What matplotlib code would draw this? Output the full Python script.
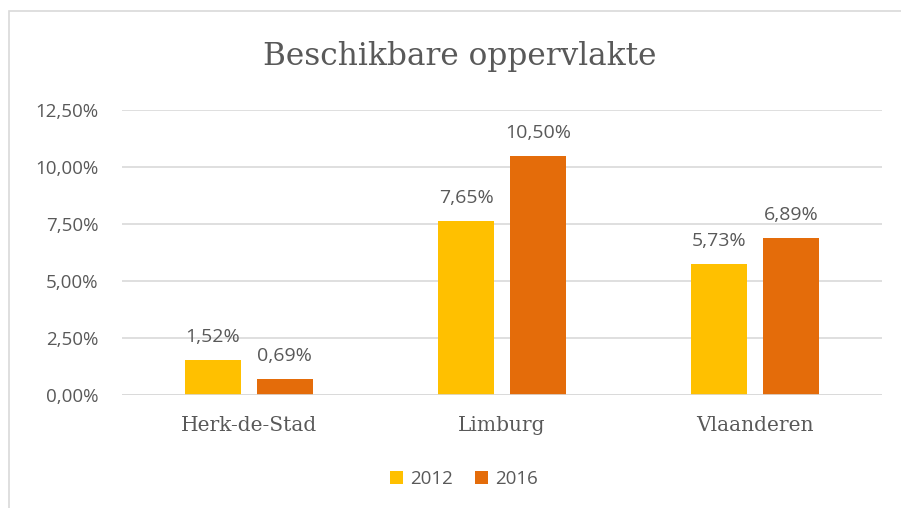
import matplotlib
matplotlib.use("Agg")
import matplotlib.pyplot as plt
from matplotlib.patches import Rectangle
import numpy as np

categories = ["Herk-de-Stad", "Limburg", "Vlaanderen"]
series_names = ["2012", "2016"]
values_2012 = [1.52, 7.65, 5.73]
values_2016 = [0.69, 10.50, 6.89]
yticks = [0, 2.5, 5, 7.5, 10, 12.5]
title = "Beschikbare oppervlakte"

colors = ["#FFC000", "#E46C0A"]
text_col = "#595959"
serif = ["DejaVu Serif"]
sans = ["Open Sans", "DejaVu Sans"]

W, H = 901, 508
fig = plt.figure(figsize=(W / 100, H / 100), dpi=100)
fig.patch.set_facecolor("white")

# chart border
fig.add_artist(Rectangle((9 / W, -0.1), 1.2, (H - 11) / H + 0.1, transform=fig.transFigure,
                         fill=False, edgecolor="#d9d9d9", lw=1.2))

ax = fig.add_axes([122 / W, 1 - 395 / H, (882 - 122) / W, (395 - 110) / H])
x = np.arange(len(categories))
bw = 0.221
off = 0.142
b1 = ax.bar(x - off, values_2012, bw, color=colors[0], label=series_names[0], zorder=3)
b2 = ax.bar(x + off, values_2016, bw, color=colors[1], label=series_names[1], zorder=3)

for bars, vals in ((b1, values_2012), (b2, values_2016)):
    for r, v in zip(bars, vals):
        ax.annotate(("%.2f%%" % v).replace(".", ","), (r.get_x() + r.get_width() / 2, v),
                    xytext=(0, 10), textcoords="offset points", ha="center", va="bottom",
                    fontsize=14, color=text_col, family=sans)

ax.set_xlim(-0.5, 2.5)
ax.set_ylim(0, 12.5)
ax.set_yticks(yticks)
ax.set_yticklabels([("%.2f%%" % t).replace(".", ",") for t in yticks], family=sans,
                   fontsize=13.5, color=text_col)
ax.set_xticks(x)
ax.set_xticklabels(categories, family=serif, fontsize=14.5, color=text_col)
ax.tick_params(axis="both", length=0)
ax.tick_params(axis="y", pad=17)
ax.tick_params(axis="x", pad=15)
ax.grid(axis="y", color="#d9d9d9", lw=1.2, zorder=0)
for s in ax.spines.values():
    s.set_visible(False)
ax.axhline(0, color="#d9d9d9", lw=1.2, zorder=4)

fig.text(460 / W, 1 - 57 / H, title, ha="center", va="center", family=serif,
         fontsize=22.5, color=text_col)

leg = fig.legend(handles=[b1, b2], labels=series_names, loc="center",
                 bbox_to_anchor=(464 / W, 1 - 479 / H), ncol=2, frameon=False,
                 prop={"family": sans, "size": 13.5}, handlelength=0.7, handleheight=0.7,
                 handletextpad=0.35, columnspacing=1.2)
for t in leg.get_texts():
    t.set_color(text_col)

fig.savefig("out.png", dpi=100, facecolor="white")
